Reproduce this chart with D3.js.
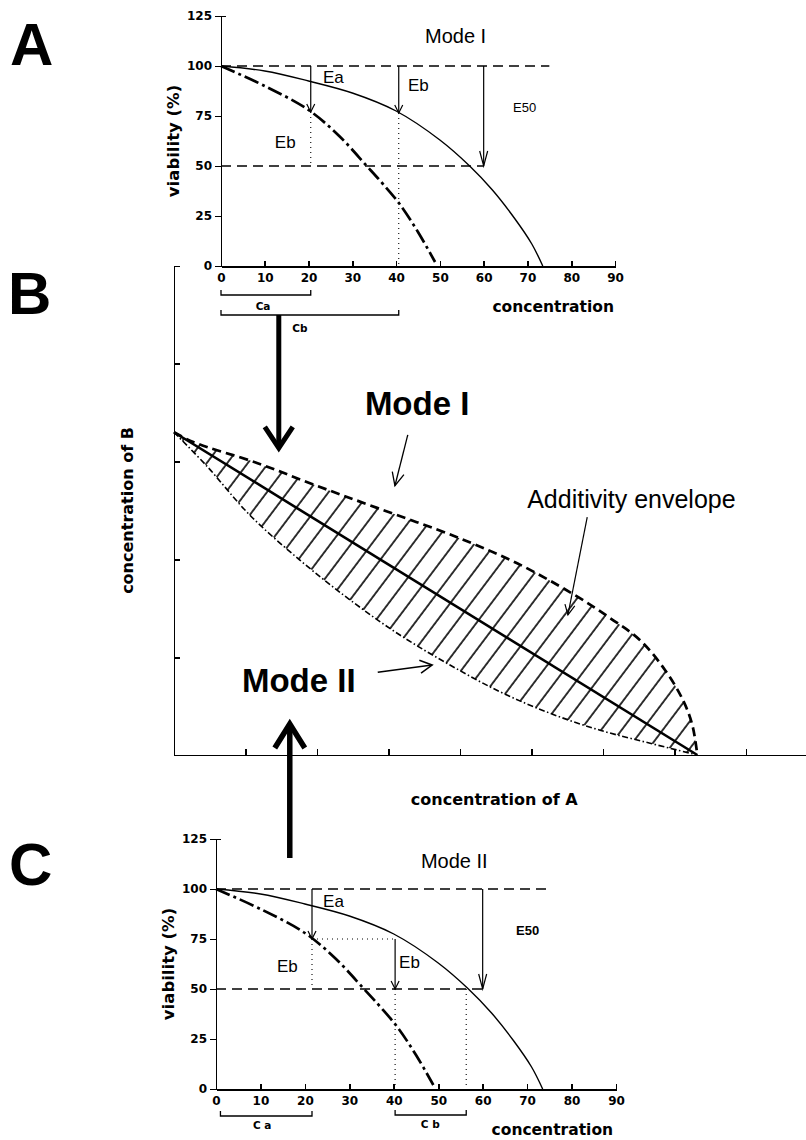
<!DOCTYPE html>
<html>
<head>
<meta charset="utf-8">
<title>Additivity envelope</title>
<script src="https://d3js.org/d3.v7.min.js"></script>
<style>
body { margin: 0; background: #fff; }
svg { display: block; }
/* axes */
.axis path, .axis line { stroke: #000; stroke-width: 1.6; fill: none; shape-rendering: crispEdges; }
.axis text { font-family: "DejaVu Sans", sans-serif; font-weight: bold; font-size: 12px; fill: #000; }
/* curves */
.solid { fill: none; stroke: #000; stroke-width: 1.4; }
.dashdot { fill: none; stroke: #000; stroke-width: 2.7; stroke-dasharray: 15,4,3,4; }
.ref { stroke: #000; stroke-width: 1.4; stroke-dasharray: 10,6; }
.dots { stroke: #000; stroke-width: 1.1; stroke-dasharray: 1,4; }
.thin { stroke: #000; stroke-width: 1.3; fill: none; }
/* text */
.axlbl { font-family: "DejaVu Sans", sans-serif; font-weight: bold; font-size: 15.5px; fill: #000; }
.small { font-family: "DejaVu Sans", sans-serif; font-weight: bold; font-size: 10.5px; fill: #000; }
.note { font-family: "Liberation Sans", Arial, sans-serif; font-size: 17px; fill: #000; }
.mode { font-family: "Liberation Sans", Arial, sans-serif; font-size: 20px; fill: #000; }
.e50 { font-family: "Liberation Sans", Arial, sans-serif; font-size: 13px; fill: #000; }
.e50b { font-family: "Liberation Sans", Arial, sans-serif; font-size: 13px; font-weight: bold; fill: #000; }
.big { font-family: "Liberation Sans", Arial, sans-serif; font-weight: bold; font-size: 33px; fill: #000; }
.env { font-family: "Liberation Sans", Arial, sans-serif; font-size: 25px; fill: #000; }
.letter { font-family: "Liberation Sans", Arial, sans-serif; font-weight: bold; font-size: 60px; fill: #000; }
</style>
</head>
<body>
<div id="chart"></div>
<script>
//---------------------------DATA-------------------------------//
const concTicks = [0, 10, 20, 30, 40, 50, 60, 70, 80, 90];
const viabTicks = [0, 25, 50, 75, 100, 125];

// single agent dose-response curves: [concentration, viability %]
const solidCurve = [[0,100],[10,97.5],[20,92.5],[30,86.5],[40,77.5],[50,63],[56.8,50],[62,38],[67,24],[71,11],[73.5,0]];
const dashCurve  = [[0,100],[10,90],[20,78],[27,65],[33.3,50],[37,41],[40.8,31],[45,17],[48.9,2]];

// dashed reference levels: viability, last concentration
const refLevels = [[100, 75], [50, 60]];

// Mode I: arrows [concentration, from, to], dotted drops, brackets
const arrowsA = [[20.5,100,77], [40.6,100,76.5], [60,100,50]];
const dotsA = [[[20.5,77],[20.5,50]], [[40.6,76.5],[40.6,0]]];
const bracketsA = [["Ca", 0, 20.5], ["Cb", 0, 40.6]];

// Mode II
const arrowsC = [[21.6,100,75], [40.3,75,50], [60,100,50]];
const dotsC = [[[21.6,75],[40.3,75]], [[21.6,75],[21.6,50]], [[40.3,50],[40.3,0]], [[56.3,50],[56.3,0]]];
const bracketsC = [["C a", 1, 21.6], ["C b", 40.3, 56.3]];

// isobologram: [concentration of A, concentration of B]
const isoTicksX = [0, 10, 20, 30, 40, 50, 60, 70, 80];
const isoTicksY = [0, 15, 30, 45, 60, 75];
const modeIUpper = [[0,49.5],[2.7,48],[11.6,44.8],[19.7,41.4],[28.4,37.9],[39.6,33.4],[48,29.4],[55.8,24.7],[61,21],[65.2,17.6],[68.7,13],[71.2,8.4],[72.5,4.6],[73.2,0]];
const modeIILower = [[0,49.5],[4.6,44.3],[10.6,36.8],[17.6,29.9],[24.6,23.8],[31.6,18.4],[38.6,13.8],[45.6,9.7],[52.6,6.4],[59.6,3.8],[66.6,1.8],[73.2,0]];
const additive = [[0,49.5],[73.2,0]];

//---------------------------SVG--------------------------------//
const width = 806, height = 1140;
const svg = d3.select("#chart").append("svg")
    .attr("width", width)
    .attr("height", height);
svg.append("rect").attr("width", width).attr("height", height).attr("fill", "#fff");

const defs = svg.append("defs");
defs.append("pattern")
    .attr("id", "hatch")
    .attr("patternUnits", "userSpaceOnUse")
    .attr("width", 16.4).attr("height", 16.4)
    .attr("patternTransform", "rotate(37)")
  .append("line")
    .attr("x1", 1).attr("y1", -1).attr("x2", 1).attr("y2", 17.4)
    .attr("stroke", "#000").attr("stroke-width", 1.6);

// arrow with an open V head
function arrow(g, x1, y1, x2, y2, len, half, sw) {
    const a = Math.atan2(y2 - y1, x2 - x1);
    const c = Math.cos(a), s = Math.sin(a);
    g.append("line")
        .attr("x1", x1).attr("y1", y1).attr("x2", x2).attr("y2", y2)
        .attr("stroke", "#000").attr("stroke-width", sw);
    const p = d3.path();
    p.moveTo(x2 - len * c + half * s, y2 - len * s - half * c);
    p.lineTo(x2, y2);
    p.lineTo(x2 - len * c - half * s, y2 - len * s + half * c);
    g.append("path").attr("d", p.toString())
        .attr("fill", "none").attr("stroke", "#000").attr("stroke-width", sw)
        .attr("stroke-linejoin", "miter");
}

//---------------------DOSE-RESPONSE PANELS---------------------//
function responsePanel(o) {
    const g = svg.append("g");
    const x = d3.scaleLinear().domain([0, 90]).range(o.xr);
    const y = d3.scaleLinear().domain([0, 125]).range(o.yr);

    g.append("g").attr("class", "axis")
        .attr("transform", "translate(0," + y(0) + ")")
        .call(d3.axisBottom(x).tickValues(concTicks).tickSizeInner(-5).tickSizeOuter(0).tickPadding(7))
        .select(".domain").style("stroke-width", 2);

    g.append("g").attr("class", "axis")
        .attr("transform", "translate(" + x(0) + ",0)")
        .call(d3.axisLeft(y).tickValues(viabTicks).tickSizeInner(6).tickSizeOuter(-5).tickPadding(3));

    g.append("text").attr("class", "axlbl")
        .attr("transform", "translate(" + (x(0) - 42) + "," + y(62.5) + ") rotate(-90)")
        .attr("text-anchor", "middle")
        .style("font-size", "16.5px")
        .text("viability (%)");

    g.append("text").attr("class", "axlbl")
        .attr("x", x(62)).attr("y", y(0) + 46)
        .text("concentration");

    g.selectAll(".ref").data(refLevels).enter().append("line")
        .attr("class", "ref")
        .attr("x1", x(0)).attr("x2", d => x(d[1]))
        .attr("y1", d => y(d[0])).attr("y2", d => y(d[0]));

    g.selectAll(".dots").data(o.dots).enter().append("line")
        .attr("class", "dots")
        .attr("x1", d => x(d[0][0])).attr("y1", d => y(d[0][1]))
        .attr("x2", d => x(d[1][0])).attr("y2", d => y(d[1][1]));

    const line = d3.line()
        .x(d => x(d[0])).y(d => y(d[1]))
        .curve(d3.curveCatmullRom.alpha(0.5));
    g.append("path").attr("class", "solid").attr("d", line(solidCurve));
    g.append("path").attr("class", "dashdot").attr("d", line(dashCurve));

    o.arrows.forEach((d, i) => {
        const long = i === 2;
        arrow(g, x(d[0]), y(d[1]), x(d[0]), y(d[2]), long ? 15 : 8, 4, 1.2);
    });

    // brackets under the axis
    o.brackets.forEach((d, i) => {
        const by = y(0) + o.bracketDy[i];
        g.append("path").attr("class", "thin")
            .attr("d", "M" + x(d[1]) + "," + (by - 5) + "V" + by + "H" + x(d[2]) + "V" + (by - 5));
        g.append("text").attr("class", "small")
            .attr("x", x(o.bracketLabelX[i])).attr("y", by + o.bracketLabelDy[i])
            .attr("text-anchor", "middle")
            .text(d[0]);
    });

    o.labels.forEach(d => {
        g.append("text").attr("class", d[0])
            .attr("x", x(d[2])).attr("y", y(d[3]))
            .text(d[1]);
    });
    return {x: x, y: y};
}

const A = responsePanel({
    xr: [221, 615], yr: [266, 16],
    arrows: arrowsA, dots: dotsA, brackets: bracketsA,
    bracketDy: [29, 49], bracketLabelX: [9.6, 18], bracketLabelDy: [15, 17],
    labels: [["mode", "Mode I", 46.6, 111.5], ["note", "Ea", 23.3, 91.5], ["note", "Eb", 42.7, 87.5],
             ["note", "Eb", 12.3, 59], ["e50", "E50", 66.7, 77]]
});

const C = responsePanel({
    xr: [216, 616], yr: [1089, 839],
    arrows: arrowsC, dots: dotsC, brackets: bracketsC,
    bracketDy: [27, 26], bracketLabelX: [10.4, 48.2], bracketLabelDy: [13, 13],
    labels: [["mode", "Mode II", 46.1, 110.5], ["note", "Ea", 24.1, 91], ["note", "Eb", 13.7, 58.5],
             ["note", "Eb", 41.2, 60.5], ["e50b", "E50", 67.5, 77]]
});

//-------------------------ISOBOLOGRAM--------------------------//
const gB = svg.append("g");
const xB = d3.scaleLinear().domain([0, 88.4]).range([174, 806]);
const yB = d3.scaleLinear().domain([0, 75]).range([755, 266]);

gB.append("g").attr("class", "axis")
    .attr("transform", "translate(0," + yB(0) + ")")
    .call(d3.axisBottom(xB).tickValues(isoTicksX).tickFormat("").tickSizeInner(-6).tickSizeOuter(0));
gB.append("g").attr("class", "axis")
    .attr("transform", "translate(" + xB(0) + ",0)")
    .call(d3.axisLeft(yB).tickValues(isoTicksY).tickFormat("").tickSizeInner(-6).tickSizeOuter(-6));

gB.append("text").attr("class", "axlbl")
    .attr("transform", "translate(133," + yB(37.5) + ") rotate(-90)")
    .attr("text-anchor", "middle")
    .style("font-size", "16px")
    .text("concentration of B");
gB.append("text").attr("class", "axlbl")
    .attr("x", xB(44.8)).attr("y", yB(0) + 50)
    .attr("text-anchor", "middle")
    .style("font-size", "16px")
    .text("concentration of A");

const iso = d3.line().x(d => xB(d[0])).y(d => yB(d[1])).curve(d3.curveCatmullRom.alpha(0.5));
const envelope = iso(modeIUpper) + "L" + iso(modeIILower.slice().reverse()).slice(1) + "Z";
gB.append("path").attr("d", envelope).attr("fill", "url(#hatch)");
gB.append("path").attr("d", iso(modeIILower)).attr("fill", "none")
    .attr("stroke", "#000").attr("stroke-width", 1.6).attr("stroke-dasharray", "6,2.5,1.5,2.5");
gB.append("path").attr("d", iso(modeIUpper)).attr("fill", "none")
    .attr("stroke", "#000").attr("stroke-width", 2.7).attr("stroke-dasharray", "9,5");
gB.append("path").attr("d", iso(additive)).attr("fill", "none")
    .attr("stroke", "#000").attr("stroke-width", 2.6);

gB.append("text").attr("class", "big").attr("x", xB(26.7)).attr("y", yB(52.1)).text("Mode I");
gB.append("text").attr("class", "big").attr("x", xB(9.5)).attr("y", yB(9.7)).text("Mode II");
gB.append("text").attr("class", "env").attr("x", xB(49.4)).attr("y", yB(37.9)).text("Additivity envelope");

arrow(gB, xB(32.7), yB(49.1), xB(30.9), yB(41.3), 13, 6, 1.3);
arrow(gB, xB(28.5), yB(12.7), xB(36.1), yB(13.8), 12, 6.5, 1.6);
arrow(gB, xB(57.8), yB(36.5), xB(55.1), yB(21.5), 10, 5, 1.2);

// links between panels
arrow(svg, A.x(13.2), A.y(0) + 49, A.x(13.2), yB(47.1), 21, 14, 5);
arrow(svg, C.x(16.6), C.y(125) + 19, C.x(16.6), yB(4.75), 24, 15, 5.5);

//---------------------------LETTERS----------------------------//
svg.append("text").attr("class", "letter").attr("x", 10).attr("y", 65).text("A");
svg.append("text").attr("class", "letter").attr("x", 8).attr("y", 314).text("B");
svg.append("text").attr("class", "letter").attr("x", 9).attr("y", 885).text("C");
</script>
</body>
</html>
